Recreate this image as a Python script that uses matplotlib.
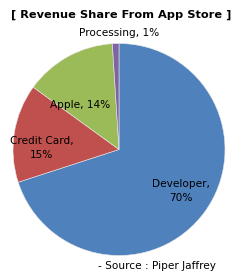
import matplotlib
matplotlib.use("Agg")
import matplotlib.pyplot as plt

# data
categories = ["Developer", "Credit Card", "Apple", "Processing"]
shares = [70, 15, 14, 1]
colors = ["#4F81BD", "#C0504D", "#9BBB59", "#8064A2"]

W, H = 243, 279
fig = plt.figure(figsize=(W / 100, H / 100), dpi=100)
fig.patch.set_facecolor("white")

# pie centre ~ (119, 149) px, radius ~106 px
cx, cy, r = 119, 149.5, 106
ax = fig.add_axes([(cx - r) / W, (H - cy - r) / H, 2 * r / W, 2 * r / H])
wedges, _ = ax.pie(shares, colors=colors, startangle=90, counterclock=False,
                   radius=1.0,
                   wedgeprops=dict(edgecolor="#e8e8e8", linewidth=0.4))
ax.set_xlim(-1, 1)
ax.set_ylim(-1, 1)
ax.set_aspect("equal")
ax.axis("off")

fs = 7.6
txt = dict(ha="center", va="center", fontsize=fs, color="black",
           linespacing=1.5)

# label positions in figure pixels
lab_pos = {
    "Developer": (181, 191),
    "Credit Card": (42, 148),
    "Apple": (80, 105),
    "Processing": (119, 33),
}
for name, val in zip(categories, shares):
    x, y = lab_pos[name]
    if name in ("Developer", "Credit Card"):
        s = f"{name},\n{val}%"
    else:
        s = f"{name}, {val}%"
    fig.text(x / W, 1 - y / H, s, **txt)

fig.text(121 / W, 1 - 15 / H, "[ Revenue Share From App Store ]",
         ha="center", va="center", fontsize=8.2, fontweight="bold")
fig.text(157 / W, 1 - 266 / H, "- Source : Piper Jaffrey",
         ha="center", va="center", fontsize=fs)

fig.savefig("out.png", dpi=100, facecolor="white")
